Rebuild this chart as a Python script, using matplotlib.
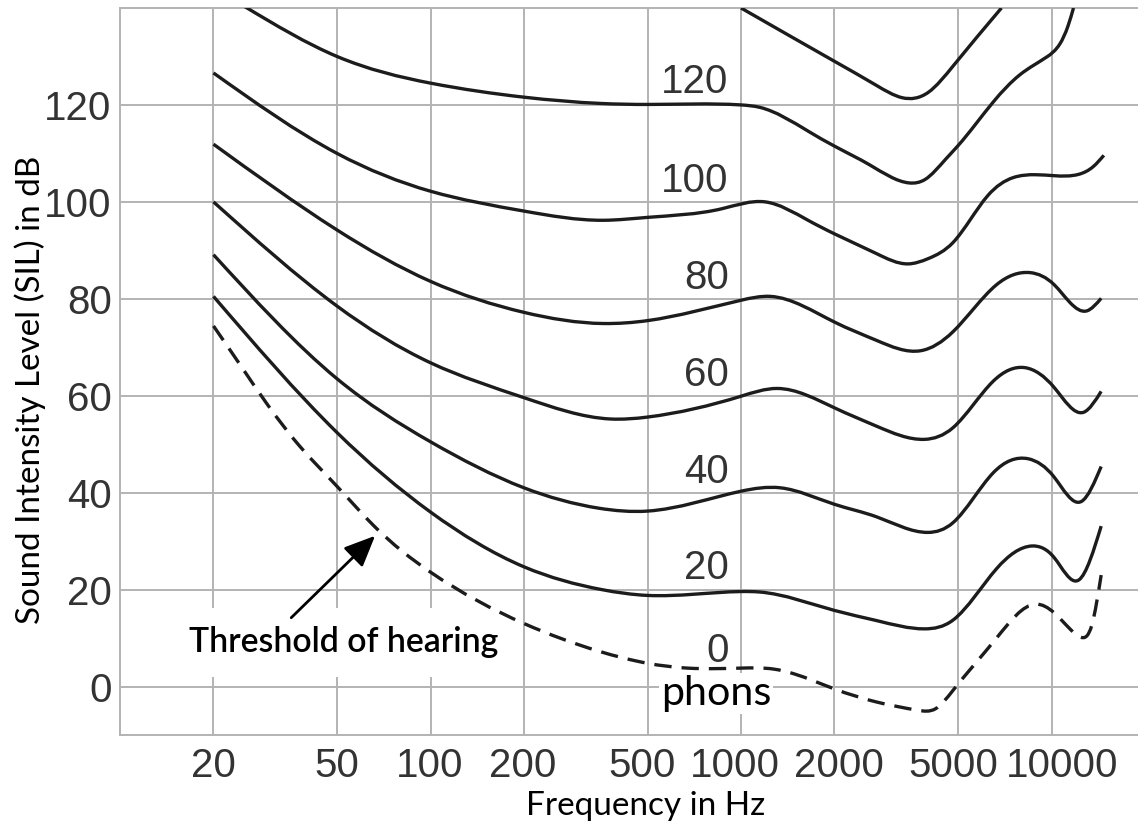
import numpy as np
import matplotlib
matplotlib.use("Agg")
import matplotlib.pyplot as plt
from matplotlib.path import Path
from matplotlib.patches import PathPatch
from matplotlib.ticker import NullLocator
from matplotlib.transforms import ScaledTranslation

# ---------------- data ----------------
x_ticks = [20, 50, 100, 200, 500, 1000, 2000, 5000, 10000]
x_tick_labels = ["20", "50", "100", "200", "500", "1000", "2000", "5000", "10000"]
y_ticks = [0, 20, 40, 60, 80, 100, 120]
y_tick_labels = ["0", "20", "40", "60", "80", "100", "120"]

f_p0 = [20, 24.3, 29.6, 37.9, 50, 65.6, 100, 200, 348, 500, 673, 1000, 1274, 1485,
        2000, 2736, 3718, 4226, 4815, 6650, 8900, 10200, 11500, 12400, 13500, 14450]
L_p0 = [74.4, 66.5, 58.5, 49.6, 41.3, 33.2, 23.6, 13.0, 7.3, 4.8, 3.8, 3.8, 3.6, 2.6,
        -0.5, -3.2, -4.9, -4.6, -0.8, 10.0, 17.0, 15.2, 11.8, 10.2, 12.8, 23.0]

f_p20 = [20, 50, 100, 200, 356, 500, 1000, 1150, 2000, 2736, 3900, 4815, 6650, 8650,
         10200, 12250, 14450]
L_p20 = [80.5, 52.4, 36.0, 24.7, 20.0, 18.8, 19.6, 19.5, 15.7, 13.6, 11.9, 13.7, 24.3,
         29.0, 26.6, 22.0, 33.1]

f_p40 = [20, 50, 100, 200, 348, 500, 1000, 1340, 2000, 2736, 4000, 4815, 6490, 8400,
         10200, 12490, 14450]
L_p40 = [89.1, 63.5, 50.5, 41.0, 36.8, 36.2, 40.3, 41.0, 37.6, 35.0, 31.8, 33.8, 44.1,
         47.0, 43.2, 38.2, 45.4]

f_p60 = [20, 50, 100, 200, 380, 500, 1000, 1307, 2000, 2736, 3900, 4815, 6490, 8200,
         10200, 12700, 14450]
L_p60 = [100.0, 78.5, 66.8, 59.6, 55.2, 55.6, 59.9, 61.5, 57.5, 53.7, 51.0, 53.4, 63.0,
         65.8, 61.7, 56.6, 60.9]

f_p80 = [20, 50, 100, 200, 360, 500, 1000, 1242, 2000, 2736, 3800, 4815, 6650, 8530,
         10200, 11480, 12980, 14450]
L_p80 = [111.9, 94.2, 83.6, 77.2, 74.9, 75.5, 79.7, 80.5, 75.2, 71.4, 69.3, 73.2, 82.9,
         85.4, 82.9, 79.2, 77.5, 80.1]

f_p100 = [20, 50, 100, 200, 360, 500, 870, 1195, 1644, 2000, 2736, 3447, 4010, 4815,
          6235, 7520, 8900, 10200, 12260, 13640, 14740]
L_p100 = [126.6, 110.0, 102.2, 98.1, 96.2, 96.8, 98.6, 100.0, 96.2, 93.4, 89.3, 87.2,
          88.3, 91.6, 101.3, 105.0, 105.6, 105.4, 105.7, 107.3, 109.6]

f_p120 = [25.2, 50, 100, 200, 355, 500, 1000, 1150, 1644, 2000, 2602, 3490, 3910, 4560,
          5000, 6490, 7900, 9655, 10640, 11300, 11770]
L_p120 = [140.3, 130.0, 124.5, 121.6, 120.3, 120.1, 120.0, 119.5, 114.6, 111.5, 107.6,
          103.9, 104.6, 108.8, 111.6, 120.6, 126.2, 129.9, 132.6, 136.3, 140.0]

f_p140 = [1000, 2000, 2735, 3300, 4010, 4815, 6898]
L_p140 = [140.0, 129.0, 124.0, 121.5, 122.6, 128.0, 140.0]

curve_freqs = [f_p0, f_p20, f_p40, f_p60, f_p80, f_p100, f_p120, f_p140]
curve_levels = [L_p0, L_p20, L_p40, L_p60, L_p80, L_p100, L_p120, L_p140]

phon_labels = ["120", "100", "80", "60", "40", "20", "0"]
phon_label_y = [122.4, 102.1, 82.1, 62.1, 42.0, 22.2, 5.0]

# horizontal nudges (pixels) of the x tick labels, as placed in the reference
x_label_dx_px = [0, 0, -1, -1, -5, -6, 4, -5, 11]


# ---------------- helpers ----------------
def spline_path(freqs, levels):
    """Natural cubic spline through the read points (in log-f space) as Bezier path."""
    x = np.log10(np.asarray(freqs, float))
    y = np.asarray(levels, float)
    n = len(x)
    h = np.diff(x)
    M = np.zeros(n)
    if n > 2:
        A = np.zeros((n - 2, n - 2))
        r = np.zeros(n - 2)
        for k in range(1, n - 1):
            j = k - 1
            A[j, j] = 2 * (h[k - 1] + h[k])
            if j > 0:
                A[j, j - 1] = h[k - 1]
            if j < n - 3:
                A[j, j + 1] = h[k]
            r[j] = 6 * ((y[k + 1] - y[k]) / h[k] - (y[k] - y[k - 1]) / h[k - 1])
        M[1:-1] = np.linalg.solve(A, r)
    verts = [(x[0], y[0])]
    codes = [Path.MOVETO]
    for i in range(n - 1):
        d = (y[i + 1] - y[i]) / h[i]
        s0 = d - h[i] * (2 * M[i] + M[i + 1]) / 6
        s1 = d + h[i] * (M[i] + 2 * M[i + 1]) / 6
        verts.append((x[i] + h[i] / 3, y[i] + s0 * h[i] / 3))
        verts.append((x[i + 1] - h[i] / 3, y[i + 1] - s1 * h[i] / 3))
        verts.append((x[i + 1], y[i + 1]))
        codes += [Path.CURVE4] * 3
    verts = np.array(verts)
    verts[:, 0] = 10 ** verts[:, 0]
    return Path(verts, codes)


W, H = 1138, 826
plt.rcParams["font.family"] = ["Liberation Sans", "DejaVu Sans"]
fig = plt.figure(figsize=(W / 100, H / 100), dpi=100)
fig.patch.set_facecolor("white")

ax = fig.add_axes([120 / W, 1 - 735 / H, (1145 - 120) / W, (735 - 8) / H])
ax.set_xscale("log")
ax.set_xlim(10, 20000)
ax.set_ylim(-10, 140)

ax.set_xticks(x_ticks)
ax.set_xticklabels(x_tick_labels)
ax.xaxis.set_minor_locator(NullLocator())
ax.set_yticks(y_ticks)
ax.set_yticklabels(y_tick_labels)
ax.tick_params(axis="both", length=0, labelsize=29, labelcolor="#333333")
ax.tick_params(axis="x", pad=8.5)
ax.tick_params(axis="y", pad=6.0)

grid_col = "#b3b3b3"
ax.set_axisbelow(True)
ax.grid(True, color=grid_col, lw=1.4)
for s in ax.spines.values():
    s.set_color(grid_col)
    s.set_linewidth(1.4)

line_col = "#1c1c1c"
for i, (fq, lv) in enumerate(zip(curve_freqs, curve_levels)):
    ls = (0, (5.2, 3.0)) if i == 0 else "-"
    patch = PathPatch(spline_path(fq, lv), fill=False, edgecolor=line_col, lw=2.4,
                      linestyle=ls, capstyle="butt", joinstyle="round", zorder=3)
    ax.add_patch(patch)

for lbl, yy in zip(phon_labels, phon_label_y):
    ax.text(913, yy, lbl, ha="right", va="baseline", fontsize=29, color="#333333",
            zorder=2)

thr = ax.text(52.5, 7.1, "Threshold of hearing", ha="center", va="baseline",
              family=["Lato", "DejaVu Sans"], weight="semibold", fontsize=22,
              color="black", zorder=1.5,
              bbox=dict(facecolor="white", edgecolor="none", pad=12))
ax.annotate("", xy=(66.3, 31.1), xytext=(35.6, 14.2),
            arrowprops=dict(arrowstyle="-|>,head_length=0.5,head_width=0.22",
                            mutation_scale=38, lw=2.0, color="black",
                            shrinkA=0, shrinkB=0), zorder=4)

phons = ax.text(830, -3.8, "phons", ha="center", va="baseline",
                family=["Lato", "DejaVu Sans"], fontsize=28, color="black",
                zorder=1.5, bbox=dict(facecolor="white", edgecolor="none", pad=1))

ylab = fig.text(30 / W, 1 - 390 / H, "Sound Intensity Level (SIL) in dB",
                rotation=90, ha="center", va="center",
                family=["Lato", "DejaVu Sans"], fontsize=21, color="black")
xlab = fig.text(646 / W, 1 - 806 / H, "Frequency in Hz", ha="center", va="center",
                family=["Lato", "DejaVu Sans"], fontsize=23, color="black")

fig.canvas.draw()
for tick, dx in zip(ax.xaxis.get_major_ticks(), x_label_dx_px):
    tick.label1.set_transform(tick.label1.get_transform() +
                              ScaledTranslation(dx / 100, 0, fig.dpi_scale_trans))


def fit(t, target, use_height=False):
    for _ in range(3):
        fig.canvas.draw()
        bb = t.get_window_extent()
        cur = bb.height if use_height else bb.width
        if cur > 0:
            t.set_fontsize(t.get_fontsize() * target / cur)


fit(thr, 309)
fit(phons, 110)
fit(ylab, 469, use_height=True)
fit(xlab, 240)

fig.savefig("out.png", dpi=100, facecolor="white")
